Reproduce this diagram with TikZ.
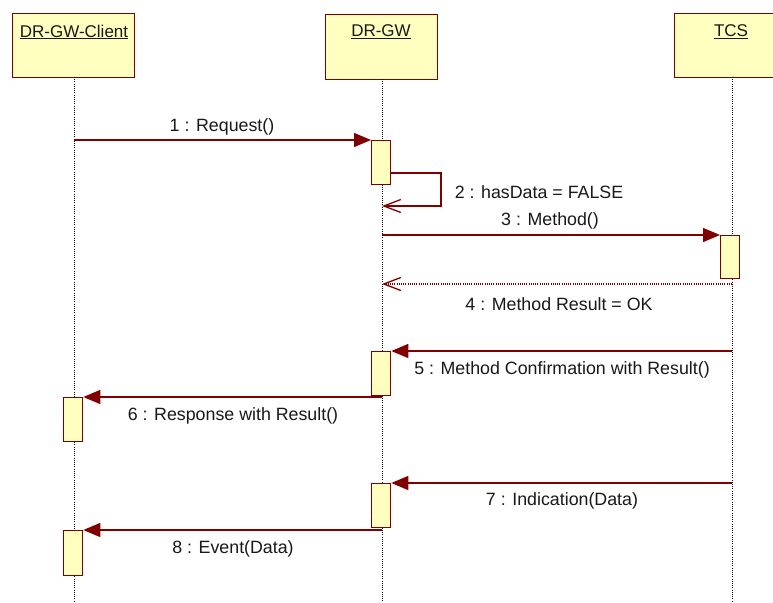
\documentclass[tikz,border=0pt]{standalone}
\usepackage{fontspec}
\setmainfont{Liberation Sans}
\usetikzlibrary{arrows.meta}
\definecolor{umlred}{RGB}{128,0,0}
\definecolor{umlfill}{RGB}{255,255,192}
\definecolor{umltext}{RGB}{25,25,25}
\tikzset{
  objbox/.style={draw=umlred, fill=umlfill, line width=1.3pt, anchor=north west, inner sep=0pt},
  actbox/.style={draw=umlred, fill=umlfill, line width=1.3pt, anchor=north west, inner sep=0pt, minimum width=19pt},
  lifeline/.style={draw=black, line width=0.8pt, dash pattern=on 1pt off 1.2pt},
  title/.style={text=umltext, font=\fontsize{17}{20}\selectfont},
  msglabel/.style={text=umltext, font=\fontsize{17.8}{21}\selectfont, inner sep=0pt},
  callmsg/.style={draw=umlred, line width=1.3pt, -{Triangle[length=17pt, width=14pt]}},
  retmsg/.style={draw=umlred, line width=1.3pt, -{Straight Barb[length=17pt, width=13pt, line width=1.3pt]}},
  dotmsg/.style={draw=umlred, line width=1.3pt, dash pattern=on 1pt off 1.2pt, -{Straight Barb[length=17pt, width=13pt, line width=1.3pt, sep=0pt]}}
}
\begin{document}
\begin{tikzpicture}[x=1pt, y=-1pt]
\useasboundingbox (0,0) rectangle (773,602);
\fill[white] (0,0) rectangle (773,602);

% object boxes
\node[objbox, minimum width=122pt, minimum height=64pt] (client) at (12,13) {};
\node[objbox, minimum width=112pt, minimum height=65pt] (gw) at (325,14) {};
\node[objbox, minimum width=120pt, minimum height=64pt] (tcs) at (674,13) {};
\node[title] (clientT) at (74,32) {\underline{DR-GW-Client}};
\node[title] (gwT) at (381,32) {\underline{DR-GW}};
\node[title] (tcsT) at (731,32) {\underline{TCS}};

% lifelines
\coordinate (clientEnd) at (74,602);
\coordinate (gwEnd) at (382,602);
\coordinate (tcsEnd) at (732,602);
\draw[lifeline] (74,77) -- (clientEnd);
\draw[lifeline] (382,79) -- (gwEnd);
\draw[lifeline] (732,77) -- (tcsEnd);

% activations
\node[actbox, minimum height=44pt] (a1) at (371,140) {};
\node[actbox, minimum height=43pt] (a3) at (720,235) {};
\node[actbox, minimum height=44pt] (a5) at (371,351) {};
\node[actbox, minimum height=44pt] (a6) at (63,397) {};
\node[actbox, minimum height=44pt] (a7) at (371,483) {};
\node[actbox, minimum height=45pt] (a8) at (63,530) {};

% message end points on lifelines
\coordinate (s1) at (74,140);
\coordinate (s2) at (390,173);
\coordinate (s2a) at (441,173);
\coordinate (s2b) at (441,206);
\coordinate (e2) at (382,206);
\coordinate (s3) at (382,235);
\coordinate (s4) at (732,284);
\coordinate (e4) at (382,284);
\coordinate (s5) at (732,351);
\coordinate (s6) at (382,397);
\coordinate (s7) at (732,483);
\coordinate (s8) at (382,530);

% messages
\draw[callmsg] (s1) -- (a1.north west);
\draw[retmsg] (s2) -- (s2a) -- (s2b) -- (e2);
\draw[callmsg] (s3) -- (a3.north west);
\draw[dotmsg] (s4) -- (e4);
\draw[callmsg] (s5) -- (a5.north east);
\draw[callmsg] (s6) -- (a6.north east);
\draw[callmsg] (s7) -- (a7.north east);
\draw[callmsg] (s8) -- (a8.north east);

% labels
\node[msglabel] (l1) at (222,127) {1 : Request()};
\node[msglabel] (l2) at (539,192) {2 : hasData = FALSE};
\node[msglabel] (l3) at (550,221) {3 : Method()};
\node[msglabel] (l4) at (559,304) {4 : Method Result = OK};
\node[msglabel] (l5) at (562,370) {5 : Method Confirmation with Result()};
\node[msglabel] (l6) at (233,416) {6 : Response with Result()};
\node[msglabel] (l7) at (562,501) {7 : Indication(Data)};
\node[msglabel] (l8) at (233,549) {8 : Event(Data)};
\end{tikzpicture}
\end{document}
